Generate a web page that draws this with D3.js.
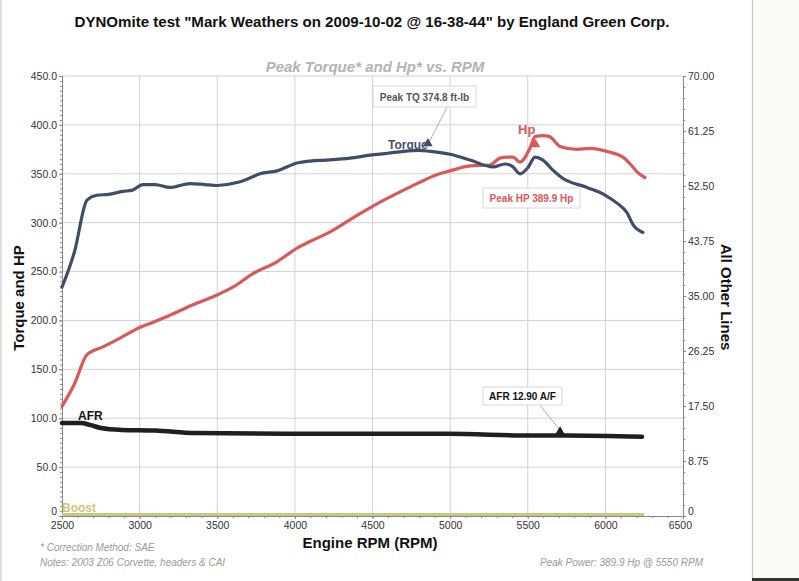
<!DOCTYPE html>
<html>
<head>
<meta charset="utf-8">
<script src="https://cdn.jsdelivr.net/npm/d3@7"></script>
<style>
  html, body { margin: 0; padding: 0; background: #ffffff; }
  svg { display: block; font-family: "Liberation Sans", Arial, sans-serif; }
</style>
</head>
<body>
<svg id="chart" width="799" height="581"></svg>
<script>
// ---------- data ----------
const torqueRpm = [2500,2580,2661,2725,2800,2893,2950,3022,3100,3195,3324,3420,3498,3627,3700,3775,3885,4014,4097,4200,4355,4485,4600,4700,4800,4870,5000,5128,5276,5353,5405,5450,5500,5547,5598,5660,5720,5882,6000,6075,6140,6178,6242];
const torqueVal = [234,270,323,328,329,332,333,339,339,336,340,339,338,341,345,350,353,361,363,364,366,369,371,373,374,373,370,364,357,360,357,350,356,367,364,354,346,336,328,320,310,298,290];

const hpRpm = [2500,2580,2661,2764,2874,3003,3100,3176,3344,3498,3600,3730,3885,4014,4100,4208,4375,4549,4697,4800,4914,5000,5128,5257,5320,5366,5405,5450,5514,5547,5598,5640,5708,5817,5900,6030,6113,6160,6204,6255];
const hpVal = [112,135,165,173,182,193,199,204,216,226,234,248,260,274,281,289,305,321,333,341,349,353,358,359,366,367,367,362,376,388,389,388,378,375,376,372,367,360,352,346];

const afrRpm = [2500,2622,2680,2750,2886,3100,3357,3937,4990,5514,5750,6236];
const afrVal = [14.8,14.8,14.5,14.0,13.7,13.6,13.2,13.07,13.07,12.8,12.8,12.6];

const boostRpm = [2500,3000,3500,4000,4500,5000,5500,6000,6250];
const boostVal = [0.25,0.25,0.25,0.25,0.25,0.25,0.25,0.25,0.25];

const leftTicks = [0,50,100,150,200,250,300,350,400,450];
const rightTicks = [0,8.75,17.5,26.25,35,43.75,52.5,61.25,70];
const xTicks = [2500,3000,3500,4000,4500,5000,5500,6000,6500];

const titleText = 'DYNOmite test "Mark Weathers on 2009-10-02 @ 16-38-44" by England Green Corp.';
const subtitleText = 'Peak Torque* and Hp* vs. RPM';

// ---------- layout ----------
const svg = d3.select("#chart");
const L = 62, R = 683, T = 76, B = 516;
const x = d3.scaleLinear().domain([2500, 6500]).range([L, R]);
const yL = d3.scaleLinear().domain([0, 450]).range([B, T]);
const yR = d3.scaleLinear().domain([0, 70]).range([B, T]);

// paper background details
svg.append("rect").attr("x", 752).attr("y", 0).attr("width", 47).attr("height", 581).attr("fill", "#fbfbf6");
svg.append("line").attr("x1", 752.5).attr("x2", 752.5).attr("y1", 0).attr("y2", 581).attr("stroke", "#c9c9c9").attr("stroke-width", 1.2);
svg.append("line").attr("x1", 1).attr("x2", 1).attr("y1", 0).attr("y2", 581).attr("stroke", "#d5d5d5").attr("stroke-width", 1.5);
svg.append("rect").attr("x", 752).attr("y", 578).attr("width", 47).attr("height", 3).attr("fill", "#333");

// titles
svg.append("text").attr("x", 372).attr("y", 27).attr("text-anchor", "middle")
  .attr("font-size", 15).attr("font-weight", "bold").attr("fill", "#111")
  .attr("textLength", 595).attr("lengthAdjust", "spacingAndGlyphs").text(titleText);
svg.append("text").attr("x", 375).attr("y", 72).attr("text-anchor", "middle")
  .attr("font-size", 15).attr("font-weight", "bold").attr("font-style", "italic").attr("fill", "#b3b3b3")
  .text(subtitleText);

// gridlines
const grid = svg.append("g").attr("stroke", "#d2d2d2").attr("stroke-width", 1);
leftTicks.filter(d => d > 0).forEach(d => {
  grid.append("line").attr("x1", L).attr("x2", R).attr("y1", yL(d)).attr("y2", yL(d));
});
xTicks.filter(d => d > 2500 && d < 6500).forEach(d => {
  grid.append("line").attr("x1", x(d)).attr("x2", x(d)).attr("y1", T).attr("y2", B);
});

// axes
const fmtL = d => d === 0 ? "0" : d3.format(".1f")(d);
const fmtR = d => d === 0 ? "0" : d3.format(".2f")(d);

const axL = svg.append("g").attr("transform", `translate(${L},0)`)
  .call(d3.axisLeft(yL).tickValues(leftTicks).tickFormat(fmtL).tickSize(3).tickPadding(2));
const axLmin = svg.append("g").attr("transform", `translate(${L},0)`)
  .call(d3.axisLeft(yL).tickValues(d3.range(0, 451, 5)).tickFormat("").tickSize(2));
const axR = svg.append("g").attr("transform", `translate(${R},0)`)
  .call(d3.axisRight(yR).tickValues(rightTicks).tickFormat(fmtR).tickSize(3).tickPadding(2));
const axRmin = svg.append("g").attr("transform", `translate(${R},0)`)
  .call(d3.axisRight(yR).tickValues(d3.range(0, 70.01, 1.75)).tickFormat("").tickSize(2));
const axB = svg.append("g").attr("transform", `translate(0,${B})`)
  .call(d3.axisBottom(x).tickValues(xTicks).tickSize(3).tickPadding(2).tickFormat(d3.format("d")));
const axBmin = svg.append("g").attr("transform", `translate(0,${B})`)
  .call(d3.axisBottom(x).tickValues(d3.range(2500, 6501, 100)).tickFormat("").tickSize(2));

[axL, axLmin, axR, axRmin, axB, axBmin].forEach(g => {
  g.selectAll("path.domain").attr("stroke", "#888");
  g.selectAll("line").attr("stroke", "#888");
  g.selectAll("text").attr("font-size", 10.5).attr("fill", "#333").attr("font-family", "Liberation Sans, Arial, sans-serif");
});
// zero labels sit slightly above the bottom line
axL.selectAll("text").filter(d => d === 0).attr("dy", "-0.15em");
axR.selectAll("text").filter(d => d === 0).attr("dy", "-0.15em");
axB.selectAll("text").attr("dy", "0.75em");
axB.selectAll("text").filter(d => d === 6500).attr("dx", "-0.3em");

// axis titles
svg.append("text").attr("transform", "translate(24,298) rotate(-90)").attr("text-anchor", "middle")
  .attr("font-size", 15).attr("font-weight", "bold").attr("fill", "#111").text("Torque and HP");
svg.append("text").attr("transform", "translate(721,297) rotate(90)").attr("text-anchor", "middle")
  .attr("font-size", 15).attr("font-weight", "bold").attr("fill", "#111").text("All Other Lines");
svg.append("text").attr("x", 370).attr("y", 548).attr("text-anchor", "middle")
  .attr("font-size", 15).attr("font-weight", "bold").attr("fill", "#111").text("Engine RPM (RPM)");

// footnotes
const foot = svg.append("g").attr("font-size", 10).attr("font-style", "italic").attr("fill", "#9a9a9a");
foot.append("text").attr("x", 40).attr("y", 551).text("* Correction Method: SAE");
foot.append("text").attr("x", 40).attr("y", 566).text("Notes: 2003 Z06 Corvette, headers & CAI");
foot.append("text").attr("x", 703).attr("y", 566).attr("text-anchor", "end").text("Peak Power: 389.9 Hp @ 5550 RPM");

// ---------- series ----------
const lineL = d3.line().x(d => x(d[0])).y(d => yL(d[1])).curve(d3.curveMonotoneX);
const lineR = d3.line().x(d => x(d[0])).y(d => yR(d[1])).curve(d3.curveMonotoneX);

svg.append("path").datum(d3.zip(boostRpm, boostVal)).attr("d", lineR)
  .attr("fill", "none").attr("stroke", "#c9c97e").attr("stroke-width", 3);
svg.append("path").datum(d3.zip(afrRpm, afrVal)).attr("d", lineR)
  .attr("fill", "none").attr("stroke", "#1f1f1f").attr("stroke-width", 4.5).attr("stroke-linecap", "round");
svg.append("path").datum(d3.zip(hpRpm, hpVal)).attr("d", lineL)
  .attr("fill", "none").attr("stroke", "#d9585a").attr("stroke-width", 3.2).attr("stroke-linecap", "round");
svg.append("path").datum(d3.zip(torqueRpm, torqueVal)).attr("d", lineL)
  .attr("fill", "none").attr("stroke", "#414d66").attr("stroke-width", 3.2).attr("stroke-linecap", "round");

// series labels
svg.append("text").attr("x", 388).attr("y", 149).attr("font-size", 12).attr("font-weight", "bold").attr("fill", "#46526a").text("Torque");
svg.append("text").attr("x", 518).attr("y", 134).attr("font-size", 13).attr("font-weight", "bold").attr("fill", "#d9585a").text("Hp");
svg.append("text").attr("x", 78).attr("y", 420).attr("font-size", 12).attr("font-weight", "bold").attr("fill", "#111").text("AFR");
svg.append("text").attr("x", 62).attr("y", 512).attr("font-size", 12).attr("font-weight", "bold").attr("fill", "#c9c97e").text("Boost");

// markers and callouts
const tri = d3.symbol().type(d3.symbolTriangle).size(40);
function callout(px, py, bx, by, bw, bh, label, color) {
  svg.append("line").attr("x1", bx + bw * 0.72).attr("y1", by + bh).attr("x2", px).attr("y2", py)
    .attr("stroke", "#9a9a9a").attr("stroke-width", 0.8);
  svg.append("rect").attr("x", bx).attr("y", by).attr("width", bw).attr("height", bh)
    .attr("fill", "#fff").attr("stroke", "#d8d8d8").attr("stroke-width", 1);
  svg.append("text").attr("x", bx + bw / 2).attr("y", by + bh / 2 + 4).attr("text-anchor", "middle")
    .attr("font-size", 10).attr("font-weight", "bold").attr("fill", color).text(label);
}
// peak torque
callout(x(4857), yL(380), 373, 86, 103, 21, "Peak TQ 374.8 ft-lb", "#555");
svg.append("path").attr("d", tri).attr("transform", `translate(${x(4857)},${yL(381)})`).attr("fill", "#414d66");
// peak hp
svg.append("rect").attr("x", 483).attr("y", 188).attr("width", 97).attr("height", 20)
  .attr("fill", "#fff").attr("stroke", "#d8d8d8");
svg.append("text").attr("x", 531.5).attr("y", 202).attr("text-anchor", "middle")
  .attr("font-size", 10).attr("font-weight", "bold").attr("fill", "#d9585a").text("Peak HP 389.9 Hp");
svg.append("path").attr("d", tri).attr("transform", `translate(${x(5550)},${yL(380)})`).attr("fill", "#d9585a");
// AFR
callout(x(5708), yR(13.6), 483, 387, 79, 18, "AFR 12.90 A/F", "#111");
svg.append("path").attr("d", tri).attr("transform", `translate(${x(5708)},${yR(13.4)})`).attr("fill", "#1f1f1f");
</script>
</body>
</html>
